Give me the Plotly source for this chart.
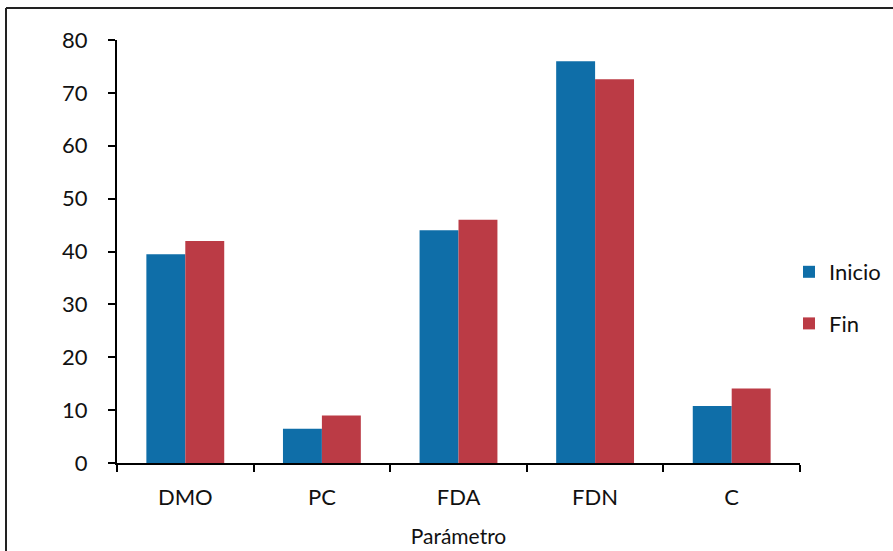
import plotly.graph_objects as go

categories = ["DMO", "PC", "FDA", "FDN", "C"]
inicio = [39.5, 6.5, 44.0, 76.0, 10.8]
fin = [42.0, 9.0, 46.0, 72.6, 14.1]
y_ticks = [0, 10, 20, 30, 40, 50, 60, 70, 80]

W, H = 893, 551
L, R, T, B = 117, 93, 40, 88
pw, ph = W - L - R, H - T - B

font = "Lato, 'Open Sans', Arial, sans-serif"

fig = go.Figure()
fig.add_trace(go.Bar(name="Inicio", x=categories, y=inicio, legendgroup="a",
                     marker=dict(color="#0f6ea8", line=dict(width=0))))
fig.add_trace(go.Bar(name="Fin", x=categories, y=fin, legendgroup="b",
                     marker=dict(color="#bb3b45", line=dict(width=0))))

def px_x(p):
    return (p - L) / pw

def px_y(p):
    return (H - B - p) / ph

fig.update_layout(
    width=W, height=H,
    margin=dict(l=L, r=R, t=T, b=B, autoexpand=False),
    paper_bgcolor="white", plot_bgcolor="white",
    barmode="group", bargap=0.43, bargroupgap=0,
    font=dict(family=font, size=22, color="#111111"),
    showlegend=True,
    legend=dict(xref="container", yref="container", x=789 / W, y=1 - 251 / H,
                xanchor="left", yanchor="top",
                font=dict(size=22), itemwidth=30, tracegroupgap=20,
                traceorder="grouped", bgcolor="rgba(0,0,0,0)"),
    xaxis=dict(showline=True, linecolor="black", linewidth=2, ticks="outside",
               tickson="boundaries", ticklen=7, tickwidth=2, tickcolor="black",
               showgrid=False, tickfont=dict(size=22), ticklabelstandoff=14,
               title=dict(text="Parámetro", font=dict(size=21), standoff=20)),
    yaxis=dict(range=[0, 80], tickvals=y_ticks, showline=True, linecolor="black",
               linewidth=2, ticks="outside", ticklen=7, tickwidth=2, tickcolor="black",
               showgrid=False, zeroline=False, tickfont=dict(size=22),
               ticklabelstandoff=16),
    shapes=[
        dict(type="line", xref="paper", yref="paper",
             x0=px_x(6), x1=px_x(900), y0=px_y(8), y1=px_y(8),
             line=dict(color="#222", width=2)),
        dict(type="line", xref="paper", yref="paper",
             x0=px_x(6), x1=px_x(6), y0=px_y(8), y1=px_y(560),
             line=dict(color="#222", width=2)),
    ],
)

fig.write_html("out.html", config={"displayModeBar": False},
               post_script="document.body.style.margin='0';")
